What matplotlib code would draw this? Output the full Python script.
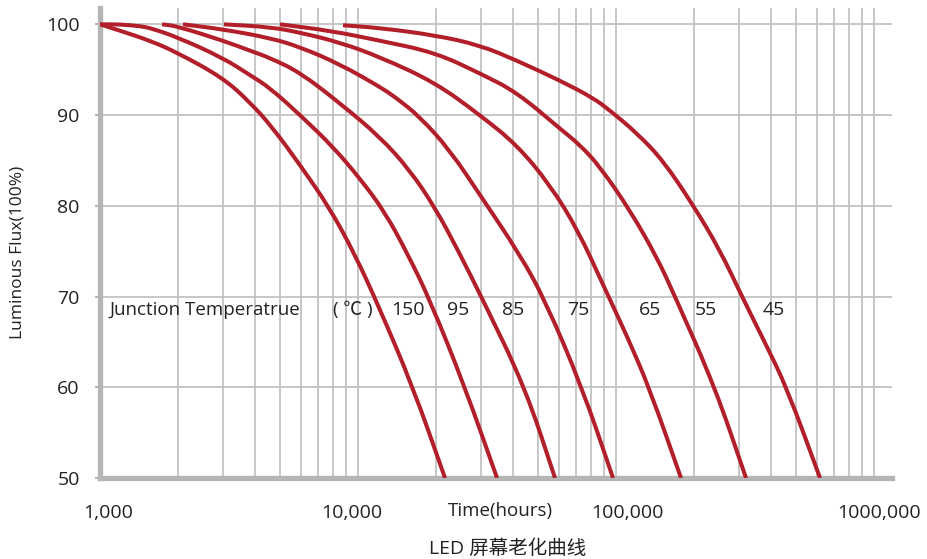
import numpy as np
import matplotlib
matplotlib.use("Agg")
import matplotlib.pyplot as plt
from matplotlib.path import Path
from matplotlib.patches import PathPatch
from matplotlib.ticker import FixedLocator, LogLocator, NullFormatter
from matplotlib.transforms import ScaledTranslation

plt.rcParams['font.family'] = ['Open Sans', 'Noto Sans CJK SC', 'DejaVu Sans']

# Luminous flux (%) vs time (hours), one curve per junction temperature
temps = ['150', '95', '85', '75', '65', '55', '45']

hours_150 = [1000, 1195, 1563, 1988, 2998, 3815, 4642, 5961, 7789, 9737, 11950, 16340, 21740]
flux_150 = [100, 99.3, 98.2, 96.9, 94.1, 91.4, 88.7, 84.5, 79.7, 74.6, 69.1, 60, 50]

hours_95 = [1000, 1195, 1429, 1563, 1988, 2998, 3815, 4559, 6068, 8000, 10180, 12720, 15630, 19010,
            25980, 34580]
flux_95 = [100, 100, 99.8, 99.6, 98.6, 96.3, 94.4, 93.0, 89.8, 86.5, 83.0, 79.3, 74.6, 69.6, 60, 50]

hours_85 = [1739, 1988, 2998, 3815, 4559, 5961, 8516, 12170, 15910, 19880, 24410, 30510, 44400, 58020]
flux_85 = [100, 99.8, 98.2, 97.1, 96.3, 94.7, 91.3, 87.6, 83.9, 79.8, 75.1, 69.6, 60, 50]

hours_75 = [2098, 2998, 4559, 5961, 8516, 12170, 13910, 17390, 22730, 29710, 42460, 53060, 73840, 97360]
flux_75 = [100, 99.45, 98.5, 97.5, 95.6, 93.1, 92.0, 89.8, 86.1, 81.2, 74.6, 69.6, 60, 50]

hours_65 = [3025, 4559, 5961, 8516, 12170, 19880, 29710, 41330, 55490, 71250, 89050, 111300, 135500, 178600]
flux_65 = [100, 99.7, 99.1, 98.0, 96.4, 93.6, 90.0, 86.7, 82.3, 77.3, 71.3, 65.4, 59.7, 50]

hours_55 = [4985, 7789, 12170, 19880, 29710, 41330, 60680, 72530, 86700, 113300, 144200, 169300, 241900, 319000]
flux_55 = [100, 99.3, 98.2, 96.9, 94.6, 92.5, 88.5, 86.7, 84.3, 79.5, 74.3, 70.0, 60, 50]

hours_45 = [8748, 12170, 19880, 29710, 41330, 60680, 81440, 94780, 120600, 152100, 198800, 253000,
            307800, 378000, 460000, 617600]
flux_45 = [99.9, 99.6, 98.8, 97.7, 96.0, 93.8, 91.9, 90.5, 88.0, 85.0, 80.1, 75.1, 70.0, 64.9, 59.9, 50]

curves = [(hours_150, flux_150), (hours_95, flux_95), (hours_85, flux_85), (hours_75, flux_75),
          (hours_65, flux_65), (hours_55, flux_55), (hours_45, flux_45)]

y_ticks = [50, 60, 70, 80, 90, 100]
x_ticks = [1000, 10000, 100000, 1000000]
x_tick_labels = ['1,000', '10,000', '100,000', '1000,000']

red = '#b21f2a'
grid_gray = '#c3c3c3'
spine_gray = '#b5b5b5'
text_col = '#222222'


def smooth_path(xs, ys):
    # quadratic bezier through the midpoints (midpoints taken in log-x space),
    # read points act as control points -> smooth rendering of the hand-drawn curves
    lx = np.log10(xs)
    ys = np.asarray(ys, dtype=float)
    verts = [(xs[0], ys[0])]
    codes = [Path.MOVETO]
    mids = [(10 ** ((lx[i] + lx[i + 1]) / 2), (ys[i] + ys[i + 1]) / 2) for i in range(len(xs) - 1)]
    verts.append(mids[0])
    codes.append(Path.LINETO)
    for i in range(1, len(xs) - 1):
        verts += [(xs[i], ys[i]), mids[i]]
        codes += [Path.CURVE3, Path.CURVE3]
    verts.append((xs[-1], ys[-1]))
    codes.append(Path.LINETO)
    return Path(verts, codes)


fig = plt.figure(figsize=(9.27, 5.59), dpi=100)
ax = fig.add_axes([100 / 927, 1 - 478 / 559, 792 / 927, 470 / 559])

ax.set_xscale('log')
ax.set_xlim(1000, 1.174e6)
ax.set_ylim(50, 101.8)

# grid: every log minor/major line vertically, every 10 % horizontally
ax.xaxis.set_major_locator(FixedLocator(x_ticks))
ax.xaxis.set_minor_locator(LogLocator(base=10, subs=np.arange(2, 10)))
ax.xaxis.set_minor_formatter(NullFormatter())
ax.set_xticklabels(x_tick_labels)
ax.set_yticks(y_ticks)

ax.grid(True, which='both', axis='x', color=grid_gray, linewidth=1.3)
ax.grid(True, which='major', axis='y', color=grid_gray, linewidth=1.3)
ax.set_axisbelow(True)

for s in ['top', 'right']:
    ax.spines[s].set_visible(False)
for s in ['left', 'bottom']:
    ax.spines[s].set_color(spine_gray)
    ax.spines[s].set_linewidth(3.8)
    ax.spines[s].set_zorder(1.5)

ax.tick_params(axis='x', which='both', length=0, pad=19, labelsize=14, labelcolor=text_col)
ax.tick_params(axis='y', length=3.5, width=1.5, color=spine_gray, pad=11, labelsize=14, labelcolor=text_col)

# the hand placed tick labels sit slightly off their grid lines
for lab, dx in zip(ax.get_xticklabels(), [8, -6, 11, 5]):
    lab.set_transform(lab.get_transform() + ScaledTranslation(dx / 100, 0, fig.dpi_scale_trans))

for hrs, flux in curves:
    ax.add_patch(PathPatch(smooth_path(hrs, flux), fill=False, edgecolor=red,
                           linewidth=2.9, capstyle='butt', zorder=3))

# junction temperature annotation row
row_y = (478 - 310) / 470
ax.text((110 - 100) / 792, row_y, 'Junction Temperatrue', transform=ax.transAxes,
        fontsize=13.5, color=text_col, va='center', ha='left')
ax.text((353 - 100) / 792, row_y, '( ℃ )', transform=ax.transAxes,
        fontsize=13.5, color=text_col, va='center', ha='center')
label_px = [408, 458, 513, 578, 650, 706, 774]
for t, px in zip(temps, label_px):
    ax.text((px - 100) / 792, row_y, t, transform=ax.transAxes,
            fontsize=14, color=text_col, va='center', ha='center')

ax.text((500 - 100) / 792, (478 - 511) / 470, 'Time(hours)', transform=ax.transAxes,
        fontsize=13.5, color=text_col, va='center', ha='center')

fig.text(18 / 927, 1 - 252 / 559, 'Luminous Flux(100%)', rotation=90, fontsize=12.5,
         color=text_col, va='center', ha='center')
fig.text(508 / 927, 1 - 549 / 559, 'LED 屏幕老化曲线', fontsize=14, color=text_col,
         va='center', ha='center')

fig.savefig('out.png', dpi=100)
